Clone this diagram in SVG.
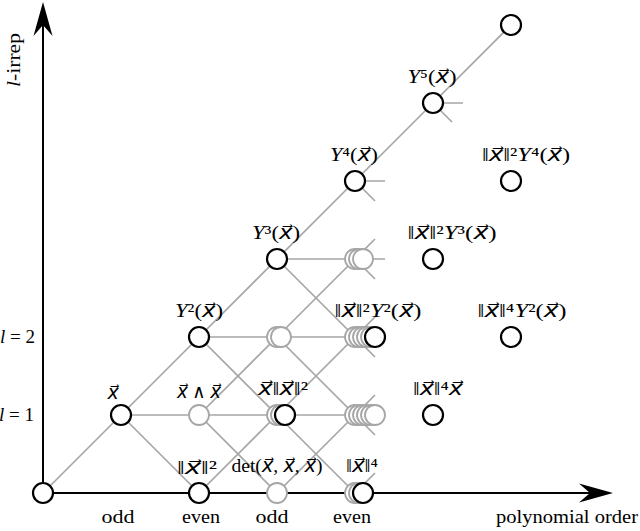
<svg xmlns="http://www.w3.org/2000/svg" width="640" height="531" viewBox="0 0 640 531">
<style>
.t{font-family:"Liberation Serif","DejaVu Serif",serif;font-size:19px;fill:#000}
.i{font-style:italic}
.x{font-family:"Liberation Serif","DejaVu Sans",sans-serif;font-style:italic}
.c{fill:#fff;stroke:#000;stroke-width:2.2}
.g{fill:#fff;stroke:#a6a6a6;stroke-width:1.8}
.ln{stroke:#a6a6a6;stroke-width:1.7;fill:none}
.ax{stroke:#000;stroke-width:2;fill:none}
</style>
<defs>
<marker id="arr" viewBox="-35 -11 36 22" refX="-23" refY="0" markerWidth="36" markerHeight="22" markerUnits="userSpaceOnUse" orient="auto">
<path d="M0,0 L-34,-9.5 L-23,0 L-34,9.5 Z" fill="#000"/>
</marker>
</defs>
<rect width="640" height="531" fill="#fff"/>
<g id="connectors" class="ln">
<path d="M43,493L121,415"/>
<path d="M121,415L199,337M121,415L199,415M121,415L199,493"/>
<path d="M199,337L277,259M199,337L277,337M199,337L277,415"/>
<path d="M199,415L277,337M199,415L277,415M199,415L277,493"/>
<path d="M199,493L277,415"/>
<path d="M277,259L355,181M277,259L355,259M277,259L355,337"/>
<path d="M277,337L355,259M277,337L355,337M277,337L355,415"/>
<path d="M277,415L355,337M277,415L355,415M277,415L355,493"/>
<path d="M277,493L355,415"/>
<path d="M355,181L433,103L511,25"/>
<path d="M355,181L385,181M355,181L375,201"/>
<path d="M355,259L375,239M355,259L385,259M355,259L375,279"/>
<path d="M355,337L375,317M355,337L385,337M355,337L375,357"/>
<path d="M355,415L375,395M355,415L385,415M355,415L375,435"/>
<path d="M355,493L375,473"/>
<path d="M433,103L463,103M433,103L452,122"/>
</g>
<g id="axes">
<path class="ax" d="M43,493L43,25" marker-end="url(#arr)"/>
<path class="ax" d="M43,493L590,493" marker-end="url(#arr)"/>
<text class="t" transform="rotate(-90 20 60)" x="20" y="60" text-anchor="middle" textLength="54" lengthAdjust="spacingAndGlyphs"><tspan class="i">l</tspan>-irrep</text>
<text class="t" x="638" y="523" text-anchor="end" textLength="142" lengthAdjust="spacingAndGlyphs">polynomial order</text>
<text class="t" x="35" y="343" text-anchor="end"><tspan class="i">l</tspan> = 2</text>
<text class="t" x="34" y="421" text-anchor="end"><tspan class="i">l</tspan> = 1</text>
<text class="t" x="118" y="523" text-anchor="middle" textLength="33" lengthAdjust="spacingAndGlyphs">odd</text>
<text class="t" x="201" y="523" text-anchor="middle" textLength="38" lengthAdjust="spacingAndGlyphs">even</text>
<text class="t" x="272" y="523" text-anchor="middle" textLength="33" lengthAdjust="spacingAndGlyphs">odd</text>
<text class="t" x="352" y="523" text-anchor="middle" textLength="38" lengthAdjust="spacingAndGlyphs">even</text>
</g>
<g id="n0"><circle class="c" cx="43" cy="493" r="10"/></g>
<g id="n-x"><circle class="c" cx="121" cy="415" r="10"/>
<text class="t" x="113" y="399" text-anchor="middle"><tspan class="x">x⃗</tspan></text></g>
<g id="n-y2"><circle class="c" cx="199" cy="337" r="10"/>
<text class="t" x="199" y="317" text-anchor="middle" textLength="48" lengthAdjust="spacingAndGlyphs"><tspan class="i">Y</tspan>²(<tspan class="x">x⃗</tspan>)</text></g>
<g id="n-wedge"><circle class="g" cx="199" cy="415" r="10"/>
<text class="t" x="199" y="398" text-anchor="middle" textLength="44" lengthAdjust="spacingAndGlyphs"><tspan class="x">x⃗</tspan> ∧ <tspan class="x">x⃗</tspan></text></g>
<g id="n-norm2"><circle class="c" cx="199" cy="493" r="10"/>
<text class="t" x="197" y="474" text-anchor="middle" textLength="40" lengthAdjust="spacingAndGlyphs">‖<tspan class="x">x⃗</tspan>‖²</text></g>
<g id="n-y3"><circle class="c" cx="277" cy="259" r="10"/>
<text class="t" x="276" y="239" text-anchor="middle" textLength="48" lengthAdjust="spacingAndGlyphs"><tspan class="i">Y</tspan>³(<tspan class="x">x⃗</tspan>)</text></g>
<g id="n-3-2"><circle class="g" cx="277" cy="337" r="10"/><circle class="g" cx="281" cy="337" r="10"/></g>
<g id="n-xnorm2"><circle class="g" cx="277" cy="415" r="10"/><circle class="g" cx="281" cy="415" r="10"/><circle class="c" cx="285" cy="415" r="10"/>
<text class="t" x="283" y="395" text-anchor="middle" textLength="50" lengthAdjust="spacingAndGlyphs"><tspan class="x">x⃗</tspan>‖<tspan class="x">x⃗</tspan>‖²</text></g>
<g id="n-det"><circle class="g" cx="277" cy="493" r="10"/>
<text class="t" x="277" y="472" text-anchor="middle" textLength="91" lengthAdjust="spacingAndGlyphs">det(<tspan class="x">x⃗</tspan>, <tspan class="x">x⃗</tspan>, <tspan class="x">x⃗</tspan>)</text></g>
<g id="n-y4"><circle class="c" cx="355" cy="181" r="10"/>
<text class="t" x="354" y="161" text-anchor="middle" textLength="48" lengthAdjust="spacingAndGlyphs"><tspan class="i">Y</tspan>⁴(<tspan class="x">x⃗</tspan>)</text></g>
<g id="n-4-3"><circle class="g" cx="355" cy="259" r="10"/><circle class="g" cx="359" cy="259" r="10"/><circle class="g" cx="363" cy="259" r="10"/></g>
<g id="n-norm2y2"><circle class="g" cx="355" cy="337" r="10"/><circle class="g" cx="359" cy="337" r="10"/><circle class="g" cx="363" cy="337" r="10"/><circle class="g" cx="367" cy="337" r="10"/><circle class="g" cx="371" cy="337" r="10"/><circle class="c" cx="375" cy="337" r="10"/>
<text class="t" x="378" y="317" text-anchor="middle" textLength="87" lengthAdjust="spacingAndGlyphs">‖<tspan class="x">x⃗</tspan>‖²<tspan class="i">Y</tspan>²(<tspan class="x">x⃗</tspan>)</text></g>
<g id="n-4-1"><circle class="g" cx="355" cy="415" r="10"/><circle class="g" cx="359" cy="415" r="10"/><circle class="g" cx="363" cy="415" r="10"/><circle class="g" cx="367" cy="415" r="10"/><circle class="g" cx="371" cy="415" r="10"/><circle class="g" cx="375" cy="415" r="10"/></g>
<g id="n-norm4"><circle class="g" cx="355" cy="493" r="10"/><circle class="g" cx="359" cy="493" r="10"/><circle class="c" cx="363" cy="493" r="10"/>
<text class="t" x="362" y="472" text-anchor="middle" textLength="32" lengthAdjust="spacingAndGlyphs">‖<tspan class="x">x⃗</tspan>‖⁴</text></g>
<g id="n-y5"><circle class="c" cx="433" cy="103" r="10"/>
<text class="t" x="432" y="83" text-anchor="middle" textLength="49" lengthAdjust="spacingAndGlyphs"><tspan class="i">Y</tspan>⁵(<tspan class="x">x⃗</tspan>)</text></g>
<g id="n-norm2y3"><circle class="c" cx="433" cy="259" r="10"/>
<text class="t" x="452" y="239" text-anchor="middle" textLength="89" lengthAdjust="spacingAndGlyphs">‖<tspan class="x">x⃗</tspan>‖²<tspan class="i">Y</tspan>³(<tspan class="x">x⃗</tspan>)</text></g>
<g id="n-norm4x"><circle class="c" cx="433" cy="415" r="10"/>
<text class="t" x="438" y="395" text-anchor="middle" textLength="50" lengthAdjust="spacingAndGlyphs">‖<tspan class="x">x⃗</tspan>‖⁴<tspan class="x">x⃗</tspan></text></g>
<g id="n-top"><circle class="c" cx="511" cy="25" r="10"/></g>
<g id="n-norm2y4"><circle class="c" cx="511" cy="181" r="10"/>
<text class="t" x="526" y="161" text-anchor="middle" textLength="88" lengthAdjust="spacingAndGlyphs">‖<tspan class="x">x⃗</tspan>‖²<tspan class="i">Y</tspan>⁴(<tspan class="x">x⃗</tspan>)</text></g>
<g id="n-norm4y2"><circle class="c" cx="511" cy="337" r="10"/>
<text class="t" x="522" y="317" text-anchor="middle" textLength="89" lengthAdjust="spacingAndGlyphs">‖<tspan class="x">x⃗</tspan>‖⁴<tspan class="i">Y</tspan>²(<tspan class="x">x⃗</tspan>)</text></g>
</svg>
